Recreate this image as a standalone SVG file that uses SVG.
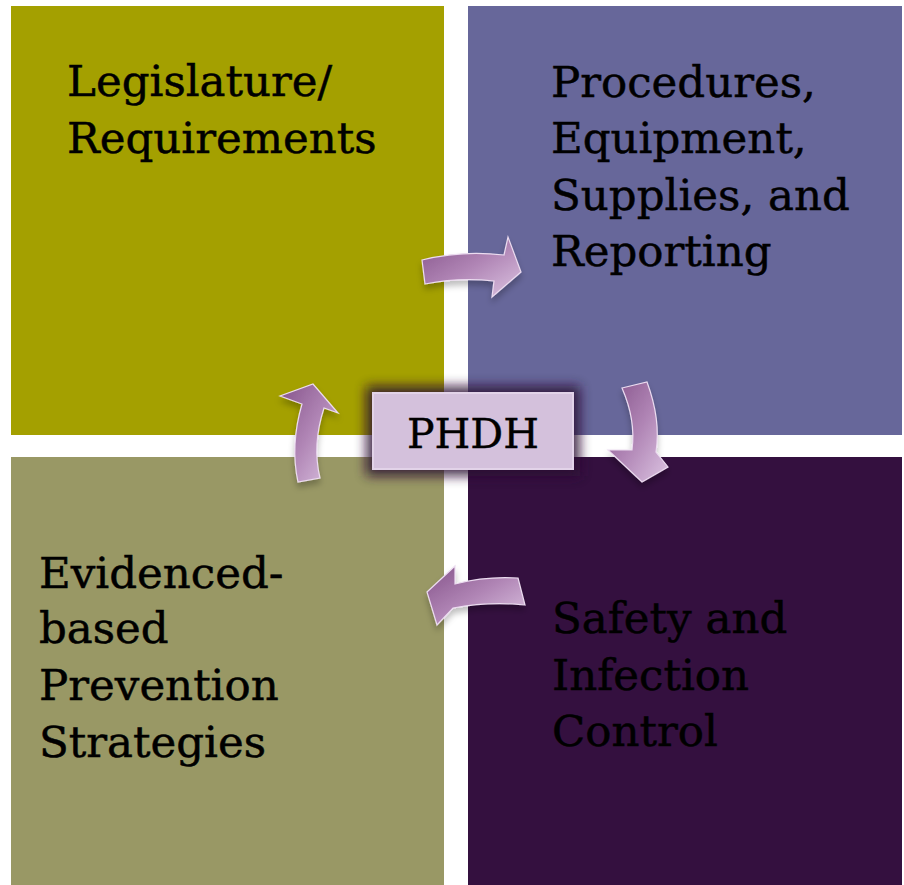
<svg xmlns="http://www.w3.org/2000/svg" width="904" height="885" viewBox="0 0 904 885">
<defs>
<style>
.lbl{font-family:"DejaVu Serif","Liberation Serif",serif;font-size:43.5px;fill:#000;stroke:#000;stroke-width:0.5;}
.arrow{fill:url(#ag);stroke:#ecdcf0;stroke-width:1.2;filter:url(#ash);}
</style>
<linearGradient id="ag" x1="0" y1="0" x2="1" y2="1">
<stop offset="0" stop-color="#85538a"/>
<stop offset="0.5" stop-color="#b085b5"/>
<stop offset="1" stop-color="#dcc4e2"/>
</linearGradient>
<filter id="ash" x="-30%" y="-30%" width="160%" height="160%">
<feGaussianBlur in="SourceAlpha" stdDeviation="3"/>
<feOffset dx="0" dy="5" result="b"/>
<feFlood flood-color="#000" flood-opacity="0.25"/>
<feComposite in2="b" operator="in" result="s"/>
<feMerge><feMergeNode in="s"/><feMergeNode in="SourceGraphic"/></feMerge>
</filter>
<filter id="glow" x="-30%" y="-50%" width="160%" height="200%">
<feGaussianBlur stdDeviation="6"/>
</filter>
</defs>
<rect width="904" height="885" fill="#fff"/>
<g id="q-legislature">
<rect x="11" y="6" width="433" height="429" fill="#a4a000"/>
<text class="lbl" x="67" y="96">Legislature/</text>
<text class="lbl" x="67" y="153">Requirements</text>
</g>
<g id="q-procedures">
<rect x="468" y="6" width="434" height="429" fill="#67679a"/>
<text class="lbl" x="551" y="97">Procedures,</text>
<text class="lbl" x="551" y="153">Equipment,</text>
<text class="lbl" x="551" y="210">Supplies, and</text>
<text class="lbl" x="551" y="266">Reporting</text>
</g>
<g id="q-evidence">
<rect x="11" y="457" width="433" height="428" fill="#999865"/>
<text class="lbl" x="39" y="588">Evidenced-</text>
<text class="lbl" x="39" y="643">based</text>
<text class="lbl" x="39" y="700">Prevention</text>
<text class="lbl" x="39" y="757">Strategies</text>
</g>
<g id="q-safety">
<rect x="468" y="457" width="434" height="428" fill="#34103f"/>
<text class="lbl" x="552" y="633">Safety and</text>
<text class="lbl" x="552" y="690">Infection</text>
<text class="lbl" x="552" y="746">Control</text>
</g>
<g id="connectors">
<path class="arrow" d="M422,260 Q462,250 504,255 L508,237 L521,272 L492,297 L494,281 Q460,277 425,284 Z"/>
<path class="arrow" d="M622,388 L647,382 Q661,420 656,452 L668,467 L642,482 L608,450 L632,450 Q636,420 622,388 Z"/>
<path class="arrow" d="M518,578 L525,605 Q490,601 453,608 L437,625 L427,592 L455,566 L455,584 Q486,576 518,578 Z"/>
<path class="arrow" d="M298,482 Q290,445 302,404 L280,396 L313,384 L338,413 L324,408 Q312,445 320,478 Z"/>
</g>
<g id="center">
<rect x="366" y="386" width="214" height="90" fill="#2a0a30" opacity="0.85" filter="url(#glow)"/>
<rect x="373" y="393" width="200" height="76" fill="#d4c1dc" stroke="#e2d3e8" stroke-width="2"/>
<text x="473" y="448" text-anchor="middle" font-family="DejaVu Serif, Liberation Serif, serif" font-size="41" fill="#000" stroke="#000" stroke-width="0.4">PHDH</text>
</g>
</svg>
